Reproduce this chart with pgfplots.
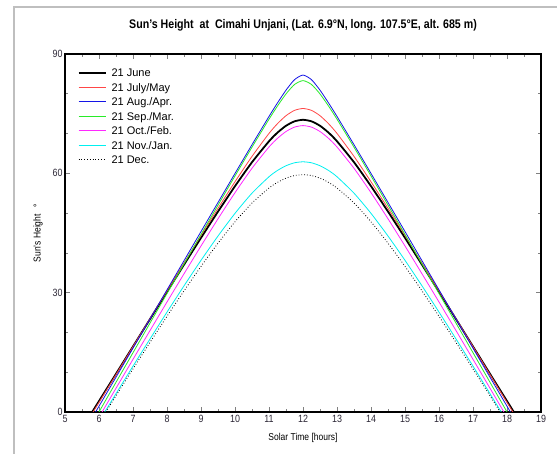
\documentclass[border=0pt]{standalone}
\usepackage{fontspec}
\setmainfont{Liberation Sans}[FakeStretch=0.85]
\newfontfamily\lgf{Liberation Sans}
\usepackage{pgfplots}
\pgfplotsset{compat=1.18}
\definecolor{cred}{RGB}{255,70,70}
\definecolor{cblue}{RGB}{20,20,230}
\definecolor{cgreen}{RGB}{40,235,40}
\definecolor{cmag}{RGB}{255,40,255}
\definecolor{ccyan}{RGB}{0,240,240}
\definecolor{ctick}{RGB}{45,40,55}
\newcommand{\lf}{\lgf\fontsize{11}{12}\selectfont\rule[-3.8pt]{0pt}{13.3pt}}
\begin{document}
\begin{tikzpicture}[x=1pt,y=1pt]
\useasboundingbox (0,0) rectangle (557,454);
\fill[white] (0,0) rectangle (557,454);
\draw[black!25, line width=1.6pt] (14,0) -- (14,447) -- (557,447);
\begin{axis}[
  at={(65pt,42pt)}, anchor=south west,
  scale only axis, width=476pt, height=358pt,
  xmin=5, xmax=19, ymin=0, ymax=90,
  xtick={5,6,...,19}, ytick={0,30,60,90},
  minor x tick num=1, minor y tick num=2,
  tick align=inside,
  major tick length=5pt, minor tick length=3pt,
  axis line style={line width=1.6pt},
  every tick/.append style={line width=0.7pt},
  /pgf/number format/assume math mode=true,
  tick label style={font=\fontsize{10.5}{12}\selectfont, text=ctick},
  yticklabel style={xshift=1pt},
  title={\bfseries Sun's Height\ \ at\ \ Cimahi Unjani, (Lat. 6.9°N, long. 107.5°E, alt. 685 m)},
  title style={font=\fontsize{12.5}{14}\selectfont, yshift=13pt},
  xlabel={Solar Time [hours]},
  ylabel={Sun's Height\ \ \ °},
  label style={font=\fontsize{10}{12}\selectfont},
  xlabel style={yshift=-3pt},
  ylabel style={yshift=3pt},
  legend cell align=left,
  legend image code/.code={\draw[#1] (0pt,0pt) -- (27pt,0pt); \path (30pt,0pt);},
  legend style={draw=none, at={(axis description cs:0.02,0.975)}, anchor=north west,
    row sep=-0.5pt},
]
\addplot[black, line width=1.8pt, smooth, tension=0.4] coordinates {(5.799,0) (6,2.74) (6.5,9.59) (7,16.47) (7.5,23.35) (8,30.21) (8.5,37.03) (9,43.78) (9.5,50.39) (10,56.78) (10.5,62.79) (11,68.06) (11.25,70.24) (11.5,71.96) (11.75,73.07) (12,73.46) (12.25,73.07) (12.5,71.96) (12.75,70.24) (13,68.06) (13.5,62.79) (14,56.78) (14.5,50.39) (15,43.78) (15.5,37.03) (16,30.21) (16.5,23.35) (17,16.47) (17.5,9.59) (18,2.74) (18.201,0)};
\addlegendentry{\lf 21 June}
\addplot[color=cred, line width=0.8pt, smooth, tension=0.4] coordinates {(5.826,0) (6,2.42) (6.5,9.41) (7,16.43) (7.5,23.45) (8,30.46) (8.5,37.44) (9,44.38) (9.5,51.21) (10,57.89) (10.5,64.26) (11,70.03) (11.25,72.49) (11.5,74.49) (11.75,75.83) (12,76.30) (12.25,75.83) (12.5,74.49) (12.75,72.49) (13,70.03) (13.5,64.26) (14,57.89) (14.5,51.21) (15,44.38) (15.5,37.44) (16,30.46) (16.5,23.45) (17,16.43) (17.5,9.41) (18,2.42) (18.174,0)};
\addlegendentry{\lf 21 July/May}
\addplot[color=cblue, line width=0.8pt, smooth, tension=0.4] coordinates {(5.900,0) (6,1.46) (6.5,8.75) (7,16.05) (7.5,23.37) (8,30.70) (8.5,38.03) (9,45.36) (9.5,52.67) (10,59.97) (10.5,67.20) (11,74.30) (11.25,77.71) (11.5,80.91) (11.75,83.54) (12,84.71) (12.25,83.54) (12.5,80.91) (12.75,77.71) (13,74.30) (13.5,67.20) (14,59.97) (14.5,52.67) (15,45.36) (15.5,38.03) (16,30.70) (16.5,23.37) (17,16.05) (17.5,8.75) (18,1.46) (18.100,0)};
\addlegendentry{\lf 21 Aug./Apr.}
\addplot[color=cgreen, line width=0.8pt, smooth, tension=0.4] coordinates {(5.999,0) (6.5,7.47) (7,14.91) (7.5,22.35) (8,29.79) (8.5,37.21) (9,44.62) (9.5,52.00) (10,59.34) (10.5,66.58) (11,73.61) (11.25,76.93) (11.5,79.96) (11.75,82.33) (12,83.31) (12.25,82.33) (12.5,79.96) (12.75,76.93) (13,73.61) (13.5,66.58) (14,59.34) (14.5,52.00) (15,44.62) (15.5,37.21) (16,29.79) (16.5,22.35) (17,14.91) (17.5,7.47) (18.001,0)};
\addlegendentry{\lf 21 Sep./Mar.}
\addplot[color=cmag, line width=0.8pt, smooth, tension=0.4] coordinates {(6.091,0) (6.5,5.97) (7,13.24) (7.5,20.47) (8,27.65) (8.5,34.74) (9,41.74) (9.5,48.57) (10,55.14) (10.5,61.27) (11,66.62) (11.25,68.80) (11.5,70.51) (11.75,71.62) (12,72.00) (12.25,71.62) (12.5,70.51) (12.75,68.80) (13,66.62) (13.5,61.27) (14,55.14) (14.5,48.57) (15,41.74) (15.5,34.74) (16,27.65) (16.5,20.47) (17,13.24) (17.5,5.97) (17.909,0)};
\addlegendentry{\lf 21 Oct./Feb.}
\addplot[color=ccyan, line width=0.8pt, smooth, tension=0.4] coordinates {(6.170,0) (6.5,4.60) (7,11.52) (7.5,18.36) (8,25.11) (8.5,31.71) (9,38.13) (9.5,44.24) (10,49.94) (10.5,55.01) (11,59.14) (11.25,60.73) (11.5,61.91) (11.75,62.65) (12,62.90) (12.25,62.65) (12.5,61.91) (12.75,60.73) (13,59.14) (13.5,55.01) (14,49.94) (14.5,44.24) (15,38.13) (15.5,31.71) (16,25.11) (16.5,18.36) (17,11.52) (17.5,4.60) (17.830,0)};
\addlegendentry{\lf 21 Nov./Jan.}
\addplot[black, line width=0.8pt, dotted, smooth, tension=0.4] coordinates {(6.201,0) (6.5,4.08) (7,10.83) (7.5,17.50) (8,24.06) (8.5,30.44) (9,36.60) (9.5,42.44) (10,47.82) (10.5,52.54) (11,56.31) (11.25,57.73) (11.5,58.79) (11.75,59.44) (12,59.66) (12.25,59.44) (12.5,58.79) (12.75,57.73) (13,56.31) (13.5,52.54) (14,47.82) (14.5,42.44) (15,36.60) (15.5,30.44) (16,24.06) (16.5,17.50) (17,10.83) (17.5,4.08) (17.799,0)};
\addlegendentry{\lf 21 Dec.}
\end{axis}
\end{tikzpicture}
\end{document}
